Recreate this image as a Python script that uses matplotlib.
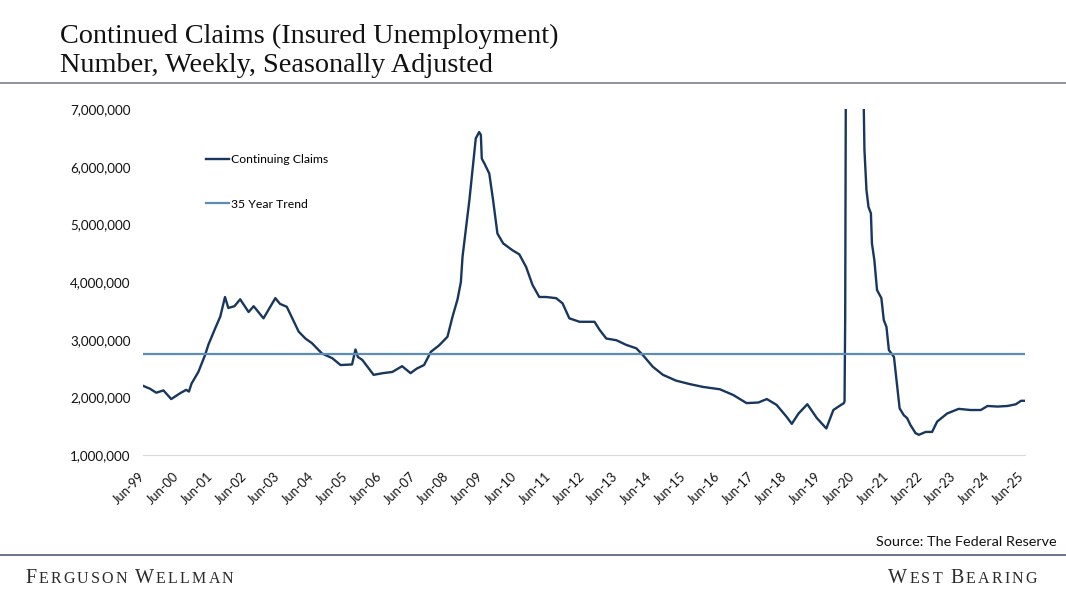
import pandas as pd
import matplotlib
matplotlib.use("Agg")
import matplotlib.pyplot as plt
from matplotlib.ticker import FuncFormatter

# continuing claims (thousands)
dates = [
    "1999-06-12", "1999-08-25", "1999-11-03", "2000-01-19", "2000-04-12", "2000-07-16",
    "2000-09-20", "2000-10-20", "2000-11-18", "2001-01-30", "2001-04-12", "2001-05-18",
    "2001-08-01", "2001-09-24", "2001-11-14", "2001-12-20", "2002-02-24", "2002-04-27",
    "2002-07-27", "2002-09-20", "2003-01-04", "2003-05-12", "2003-07-02", "2003-09-13",
    "2004-01-19", "2004-04-01", "2004-06-10", "2004-09-27", "2005-01-15", "2005-04-16",
    "2005-08-18", "2005-09-24", "2005-10-20", "2005-12-06", "2006-04-08", "2006-07-20",
    "2006-10-27", "2007-02-10", "2007-05-12", "2007-07-20", "2007-10-05", "2007-12-18",
    "2008-03-15", "2008-06-14", "2008-08-08", "2008-10-01", "2008-11-06", "2008-11-24",
    "2009-02-06", "2009-03-14", "2009-04-16", "2009-05-22", "2009-06-10", "2009-06-20",
    "2009-07-20", "2009-09-09", "2009-10-20", "2009-12-06", "2010-02-06", "2010-05-18",
    "2010-07-30", "2010-10-12", "2010-12-20", "2011-03-03", "2011-05-15", "2011-09-01",
    "2011-11-10", "2012-01-22", "2012-05-12", "2012-10-20", "2012-12-14", "2013-02-24",
    "2013-06-14", "2013-09-27", "2014-01-15", "2014-03-28", "2014-07-12", "2014-10-30",
    "2015-03-20", "2015-08-14", "2016-01-08", "2016-07-05", "2016-11-28", "2017-04-20",
    "2017-08-25", "2017-11-25", "2018-03-10", "2018-06-28", "2018-08-22", "2018-11-03",
    "2019-02-06", "2019-05-20", "2019-08-30", "2019-11-14", "2020-01-18", "2020-03-07",
    "2020-03-14", "2020-03-21", "2020-03-28", "2020-04-11", "2020-05-09", "2020-06-13",
    "2020-07-18", "2020-08-22", "2020-09-19", "2020-10-08", "2020-10-15", "2020-11-06",
    "2020-11-28", "2020-12-24", "2021-01-04", "2021-01-30", "2021-02-28", "2021-04-16",
    "2021-05-12", "2021-06-10", "2021-07-06", "2021-08-30", "2021-10-05", "2021-10-30",
    "2021-12-14", "2022-01-19", "2022-02-24", "2022-04-20", "2022-05-26", "2022-08-08",
    "2022-10-16", "2022-12-10", "2023-03-28", "2023-07-30", "2023-12-06", "2024-03-25",
    "2024-06-06", "2024-09-20", "2025-01-08", "2025-04-08", "2025-06-03", "2025-07-16",
]
claims = [
    2200, 2150, 2080, 2120, 1970, 2070,
    2130, 2100, 2240, 2440, 2730, 2910,
    3200, 3400, 3740, 3550, 3580, 3700,
    3480, 3580, 3370, 3720, 3620, 3570,
    3140, 3020, 2940, 2760, 2680, 2560,
    2570, 2830, 2700, 2650, 2390, 2420,
    2440, 2540, 2420, 2500, 2560, 2790,
    2900, 3050, 3400, 3700, 4000, 4440,
    5420, 5970, 6490, 6600, 6550, 6140,
    6050, 5880, 5420, 4840, 4670, 4550,
    4480, 4260, 3950, 3740, 3740, 3720,
    3630, 3370, 3310, 3310, 3170, 3020,
    2990, 2910, 2850, 2730, 2530, 2390,
    2290, 2230, 2180, 2140, 2040, 1900,
    1910, 1970, 1870, 1660, 1540, 1720,
    1880, 1640, 1460, 1780, 1850, 1900,
    1930, 3400, 7400, 16000, 22500, 17500,
    16000, 13000, 11000, 7000, 6290, 5590,
    5300, 5190, 4670, 4380, 3860, 3720,
    3340, 3220, 2820, 2700, 2180, 1810,
    1690, 1640, 1520, 1380, 1350, 1400,
    1400, 1580, 1720, 1800, 1780, 1780,
    1850, 1840, 1850, 1880, 1940, 1940,
]
trend = 2760  # 35 year trend, thousands
tick_years = list(range(1999, 2026))

x = pd.to_datetime(dates)
y = [c * 1000 for c in claims]

navy = "#17375E"
light = "#5A8DB8"

fig = plt.figure(figsize=(10.66, 5.94), dpi=100)
ax = fig.add_axes([143 / 1066, 1 - 455 / 594, 882 / 1066, 346 / 594])

ax.plot(x, y, color=navy, lw=1.7, label="Continuing Claims")
ax.axhline(trend * 1000, color=light, lw=1.6, label="35 Year Trend")

ax.set_ylim(1_000_000, 7_000_000)
ax.set_yticks(range(1_000_000, 7_000_001, 1_000_000))
ax.yaxis.set_major_formatter(FuncFormatter(lambda v, p: "{:,.0f}".format(v)))
ax.set_xlim(x[0], x[-1])

ticks = [pd.Timestamp(f"{yr}-06-12") for yr in tick_years]
ax.set_xticks(ticks)
ax.set_xticklabels([t.strftime("Jun-%y") for t in ticks], rotation=45, ha="right",
                   rotation_mode="anchor", va="center")

for s in ["top", "right", "left"]:
    ax.spines[s].set_visible(False)
ax.spines["bottom"].set_color("#D9D9D9")
ax.tick_params(axis="both", length=0, colors="#111111")
ax.tick_params(axis="y", pad=9, labelsize=9.6)
ax.tick_params(axis="x", pad=14, labelsize=9.3)
for lab in ax.get_xticklabels() + ax.get_yticklabels():
    lab.set_family("Lato")

ax.legend(loc="upper left", bbox_to_anchor=(0.0714, 0.87), frameon=False,
          prop={"family": "Lato", "size": 8.8}, handlelength=1.9, handletextpad=0.15,
          labelspacing=2.75, borderpad=0, borderaxespad=0)

# header
fig.text(60 / 1066, 1 - 43 / 594, "Continued Claims (Insured Unemployment)",
         family="Liberation Serif", size=20.3, color="#111111", va="baseline")
fig.text(60 / 1066, 1 - 72 / 594, "Number, Weekly, Seasonally Adjusted",
         family="Liberation Serif", size=20.3, color="#111111", va="baseline")
fig.add_artist(plt.Line2D([0, 1], [1 - 83 / 594] * 2, color="#6B7785", lw=1.1))

# footer
fig.text(1057 / 1066, 1 - 542 / 594, "Source: The Federal Reserve", family="Lato",
         size=10.4, color="#111111", ha="right", va="center")
fig.add_artist(plt.Line2D([0, 1], [1 - 555 / 594] * 2, color="#3E5068", lw=1.1))


def caps_line(x0, y0, words, big=14.5, small=11.5, track=2.2, color="#2B2B2B", right=False):
    # fake small caps, letter by letter with some tracking
    letters = []
    for i, w in enumerate(words):
        if i:
            letters.append((" ", small))
        letters.append((w[0], big))
        letters += [(ch.upper(), small) for ch in w[1:]]
    renderer = fig.canvas.get_renderer()
    arts = []
    xpos = 0.0
    for ch, sz in letters:
        t = fig.text(0, y0, ch, family="Liberation Serif", size=sz, color=color,
                     va="baseline")
        w = t.get_window_extent(renderer).width if ch != " " else sz * 0.3
        arts.append((t, xpos))
        xpos += w + track
    x_start = x0 * 1066 - (xpos - track if right else 0)
    for t, off in arts:
        t.set_x((x_start + off) / 1066)


caps_line(25 / 1066, 1 - 583 / 594, ["Ferguson", "Wellman"])
caps_line(1037 / 1066, 1 - 583 / 594, ["West", "Bearing"], right=True)

fig.savefig("out.png", dpi=100)
